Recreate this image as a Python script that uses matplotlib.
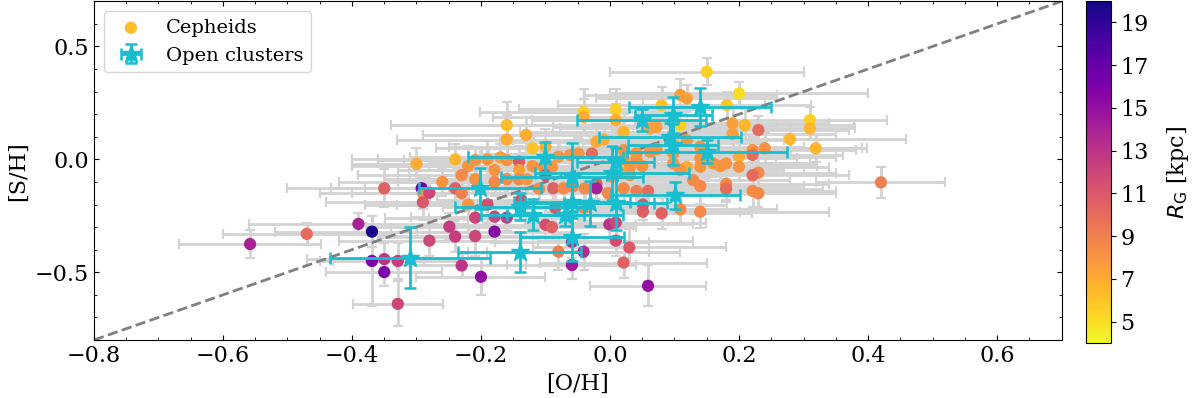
import matplotlib
matplotlib.use("Agg")
import matplotlib.pyplot as plt
import numpy as np

plt.rcParams['font.family'] = ['DejaVu Serif']
plt.rcParams['mathtext.fontset'] = 'dejavusans'

# ---------------- Cepheids ----------------
ceph_oh = [-0.16, -0.558, -0.47, -0.39, -0.369, -0.35, -0.30, -0.292, -0.29, -0.28,
           -0.29, -0.369, -0.35, -0.329, -0.35, -0.329, -0.28, -0.249, -0.24, -0.23,
           -0.20, -0.209, -0.209, -0.179, -0.179, -0.16, -0.19, -0.22, -0.24, -0.23,
           -0.26, -0.24, -0.22, -0.209, -0.23, -0.209, -0.19, -0.179, -0.17, -0.16,
           -0.13, -0.12, -0.16, -0.141, -0.16, -0.141, -0.141, -0.129, -0.12, -0.179,
           -0.138, -0.139, 0.15, 0.20, 0.109, 0.119, 0.08, 0.181, -0.041, -0.041,
           0.009, 0.009, 0.021, 0.109, 0.062, 0.072, 0.19, 0.19, 0.209, 0.23,
           0.31, 0.31, 0.279, 0.319, 0.24, 0.221, 0.221, 0.20, 0.20, 0.23,
           0.221, 0.221, 0.23, 0.18, 0.18, 0.171, 0.18, 0.16, 0.14, 0.14,
           0.119, 0.109, 0.129, 0.14, 0.14, 0.109, 0.08, 0.051, 0.051, 0.059,
           0.041, 0.021, 0.041, 0.041, 0.021, 0.021, 0.062, 0.072, 0.031, 0.05,
           0.098, 0.098, 0.098, 0.119, 0.14, -0.021, -0.01, -0.028, -0.049, -0.062,
           -0.08, -0.10, -0.103, -0.09, -0.10, -0.088, -0.072, -0.058, -0.039, -0.021,
           -0.021, -0.003, 0.021, 0.031, 0.003, -0.10, -0.09, -0.08, -0.059, -0.059,
           -0.041, -0.001, 0.009, 0.009, 0.03, 0.021, 0.059, 0.42, -0.085, -0.04,
           -0.11]
ceph_sh = [0.152, -0.375, -0.33, -0.286, -0.32, -0.128, -0.02, -0.128, -0.15, -0.148,
           -0.19, -0.45, -0.442, -0.45, -0.499, -0.64, -0.36, -0.298, -0.342, -0.47,
           -0.52, -0.34, -0.258, -0.32, -0.254, -0.258, -0.20, -0.20, -0.128, -0.15,
           -0.10, 0.0, -0.03, -0.003, -0.07, -0.088, 0.0, -0.047, 0.009, 0.088,
           0.108, 0.049, -0.003, -0.01, -0.088, -0.047, -0.088, -0.088, -0.03, -0.10,
           -0.18, -0.21, 0.388, 0.292, 0.285, 0.27, 0.24, 0.24, 0.21, 0.188,
           0.221, 0.174, 0.122, 0.152, 0.137, 0.144, 0.159, 0.112, 0.152, 0.13,
           0.174, 0.137, 0.09, 0.049, 0.049, 0.041, 0.02, 0.012, -0.033, -0.059,
           -0.07, -0.14, -0.15, -0.109, -0.13, -0.03, -0.018, -0.018, -0.033, 0.004,
           -0.033, -0.047, -0.092, -0.118, -0.232, -0.221, -0.239, -0.232, -0.20, -0.14,
           -0.14, -0.128, 0.027, 0.0, 0.041, 0.0, 0.034, 0.045, -0.033, -0.03,
           -0.018, 0.027, 0.071, 0.085, 0.056, 0.078, 0.088, 0.026, 0.026, 0.019,
           0.012, 0.056, -0.033, -0.033, -0.07, -0.128, -0.128, -0.12, -0.128, -0.106,
           -0.128, -0.15, -0.062, -0.07, -0.077, -0.29, -0.30, -0.409, -0.468, -0.365,
           -0.409, -0.288, -0.28, -0.36, -0.39, -0.457, -0.56, -0.102, -0.215, -0.215,
           -0.13]
ceph_rg = [6.3, 14.0, 10.0, 14.0, 19.8, 10.5, 7.0, 16.5, 8.0, 12.0,
           11.0, 16.0, 13.0, 12.5, 16.0, 12.0, 12.0, 12.5, 12.5, 13.0,
           15.0, 12.0, 12.0, 15.5, 12.0, 12.5, 11.5, 8.0, 10.5, 9.0,
           8.0, 6.5, 8.0, 8.0, 8.5, 8.0, 8.0, 8.0, 7.5, 7.0,
           7.0, 6.0, 8.0, 11.0, 8.5, 7.5, 8.5, 8.0, 8.0, 8.5,
           11.5, 16.0, 5.5, 5.0, 7.5, 7.5, 6.0, 6.0, 5.5, 7.0,
           5.5, 7.0, 6.5, 5.5, 7.5, 7.5, 7.5, 7.5, 6.5, 10.0,
           5.5, 6.5, 6.5, 6.5, 8.0, 8.0, 10.0, 7.0, 8.0, 8.5,
           10.0, 8.5, 8.5, 8.5, 10.0, 8.0, 8.0, 8.0, 8.0, 8.0,
           7.0, 8.0, 8.5, 8.5, 8.5, 8.5, 10.5, 10.5, 11.0, 10.0,
           9.0, 8.5, 8.0, 8.0, 8.0, 8.0, 8.0, 8.0, 8.0, 8.0,
           8.0, 8.0, 7.0, 8.0, 8.0, 7.0, 7.0, 10.0, 8.0, 8.0,
           8.0, 7.0, 8.0, 8.0, 11.5, 10.5, 8.5, 8.5, 8.5, 10.5,
           14.0, 8.5, 7.5, 8.0, 8.0, 11.5, 10.5, 9.0, 14.5, 13.5,
           13.5, 13.0, 12.0, 11.5, 11.0, 10.5, 15.0, 9.0, 11.0, 8.5,
           8.5]
ceph_oh_err = [0.18, 0.11, 0.13, 0.17, 0.15, 0.15, 0.10, 0.14, 0.16, 0.12,
               0.15, 0.08, 0.12, 0.10, 0.09, 0.07, 0.14, 0.13, 0.12, 0.10,
               0.10, 0.15, 0.14, 0.12, 0.13, 0.12, 0.14, 0.16, 0.14, 0.17,
               0.16, 0.16, 0.18, 0.15, 0.16, 0.14, 0.17, 0.15, 0.14, 0.17,
               0.16, 0.15, 0.16, 0.14, 0.15, 0.17, 0.14, 0.15, 0.16, 0.15,
               0.13, 0.12, 0.15, 0.20, 0.15, 0.14, 0.16, 0.13, 0.16, 0.14,
               0.15, 0.13, 0.16, 0.15, 0.14, 0.16, 0.15, 0.16, 0.17, 0.14,
               0.12, 0.07, 0.18, 0.08, 0.15, 0.16, 0.14, 0.15, 0.14, 0.12,
               0.15, 0.13, 0.12, 0.16, 0.15, 0.15, 0.14, 0.15, 0.16, 0.15,
               0.14, 0.16, 0.15, 0.16, 0.20, 0.15, 0.14, 0.15, 0.13, 0.15,
               0.16, 0.14, 0.15, 0.16, 0.15, 0.14, 0.16, 0.15, 0.14, 0.15,
               0.16, 0.15, 0.14, 0.15, 0.16, 0.15, 0.14, 0.16, 0.15, 0.14,
               0.16, 0.15, 0.14, 0.15, 0.16, 0.15, 0.14, 0.15, 0.16, 0.14,
               0.15, 0.16, 0.15, 0.14, 0.15, 0.14, 0.13, 0.14, 0.10, 0.12,
               0.15, 0.13, 0.14, 0.12, 0.15, 0.13, 0.09, 0.10, 0.14, 0.15,
               0.14]
ceph_sh_err = [0.10, 0.06, 0.05, 0.05, 0.07, 0.085, 0.07, 0.06, 0.07, 0.06,
               0.08, 0.20, 0.07, 0.08, 0.06, 0.10, 0.07, 0.06, 0.07, 0.05,
               0.08, 0.09, 0.06, 0.05, 0.07, 0.06, 0.08, 0.07, 0.06, 0.08,
               0.06, 0.07, 0.09, 0.06, 0.07, 0.06, 0.08, 0.07, 0.06, 0.11,
               0.08, 0.07, 0.06, 0.07, 0.07, 0.06, 0.08, 0.06, 0.07, 0.06,
               0.07, 0.06, 0.06, 0.05, 0.07, 0.06, 0.08, 0.06, 0.10, 0.08,
               0.09, 0.07, 0.08, 0.06, 0.07, 0.06, 0.07, 0.06, 0.07, 0.06,
               0.06, 0.05, 0.07, 0.06, 0.07, 0.06, 0.06, 0.07, 0.06, 0.07,
               0.06, 0.07, 0.06, 0.07, 0.06, 0.06, 0.07, 0.06, 0.07, 0.06,
               0.07, 0.06, 0.07, 0.08, 0.07, 0.06, 0.07, 0.06, 0.07, 0.06,
               0.07, 0.06, 0.06, 0.07, 0.06, 0.07, 0.06, 0.07, 0.06, 0.07,
               0.06, 0.07, 0.06, 0.07, 0.06, 0.08, 0.07, 0.06, 0.07, 0.06,
               0.07, 0.08, 0.06, 0.07, 0.06, 0.07, 0.06, 0.07, 0.06, 0.07,
               0.08, 0.07, 0.06, 0.07, 0.06, 0.07, 0.06, 0.08, 0.06, 0.07,
               0.08, 0.07, 0.06, 0.07, 0.08, 0.07, 0.09, 0.07, 0.07, 0.06,
               0.07]

# ---------------- Open clusters ----------------
oc_oh = [-0.31, -0.2016, -0.14, -0.14, -0.12, -0.10, -0.059, -0.059, -0.059, -0.031,
         -0.07, 0.003, 0.009, 0.049, 0.098, 0.14, 0.093, 0.098, 0.15, 0.101, 0.009]
oc_sh = [-0.435, -0.128, -0.41, -0.21, -0.245, 0.01, -0.077, -0.188, -0.342, -0.195,
         -0.246, -0.062, -0.195, 0.174, 0.196, 0.233, 0.10, 0.065, 0.034, -0.158, -0.01]
oc_oh_err = [0.124, 0.095, 0.095, 0.10, 0.08, 0.12, 0.11, 0.09, 0.08, 0.10,
             0.09, 0.12, 0.08, 0.10, 0.06, 0.11, 0.11, 0.07, 0.124, 0.10, 0.06]
oc_sh_err = [0.135, 0.09, 0.088, 0.06, 0.07, 0.067, 0.15, 0.07, 0.11, 0.10,
             0.05, 0.12, 0.12, 0.05, 0.08, 0.085, 0.06, 0.09, 0.05, 0.06, 0.06]

x_limits = (-0.8, 0.7)
y_limits = (-0.8, 0.7)
rg_limits = (4, 20)
cbar_ticks = [5, 7, 9, 11, 13, 15, 17, 19]

fig = plt.figure(figsize=(12, 3.98), dpi=100)
ax = fig.add_axes([0.0783, 0.1457, 0.8063, 0.851])
cax = fig.add_axes([0.905, 0.138, 0.0206, 0.8595])

ax.errorbar(ceph_oh, ceph_sh, xerr=ceph_oh_err, yerr=ceph_sh_err, fmt='none',
            ecolor='lightgray', elinewidth=2.0, capsize=3.5, capthick=1.6, zorder=1)
ax.axline((0, 0), slope=1, color='gray', ls='--', lw=2, zorder=2)
sc = ax.scatter(ceph_oh, ceph_sh, c=ceph_rg, cmap='plasma_r', vmin=rg_limits[0],
                vmax=rg_limits[1], s=78, edgecolors='none', zorder=3, label='Cepheids')
ax.errorbar(oc_oh, oc_sh, xerr=oc_oh_err, yerr=oc_sh_err, fmt='*', color='#17becf',
            ms=14, elinewidth=2, capsize=4, capthick=1.8, zorder=4, label='Open clusters')

ax.set_xlim(*x_limits)
ax.set_ylim(*y_limits)
ax.set_xticks([-0.8, -0.6, -0.4, -0.2, 0.0, 0.2, 0.4, 0.6])
ax.set_yticks([-0.5, 0.0, 0.5])
ax.xaxis.set_minor_locator(matplotlib.ticker.MultipleLocator(0.05))
ax.yaxis.set_minor_locator(matplotlib.ticker.MultipleLocator(0.1))
ax.tick_params(which='both', direction='in', top=True, right=True, labelsize=16)
ax.set_xlabel('[O/H]', fontsize=16)
ax.set_ylabel('[S/H]', fontsize=16)
leg = ax.legend(loc='upper left', fontsize=14)

cb = fig.colorbar(sc, cax=cax)
cb.set_ticks(cbar_ticks)
cb.ax.tick_params(labelsize=16)
cb.set_label(r'$R_{\rm G}$ [kpc]', fontsize=16, labelpad=12)

fig.savefig('out.png', dpi=100)
